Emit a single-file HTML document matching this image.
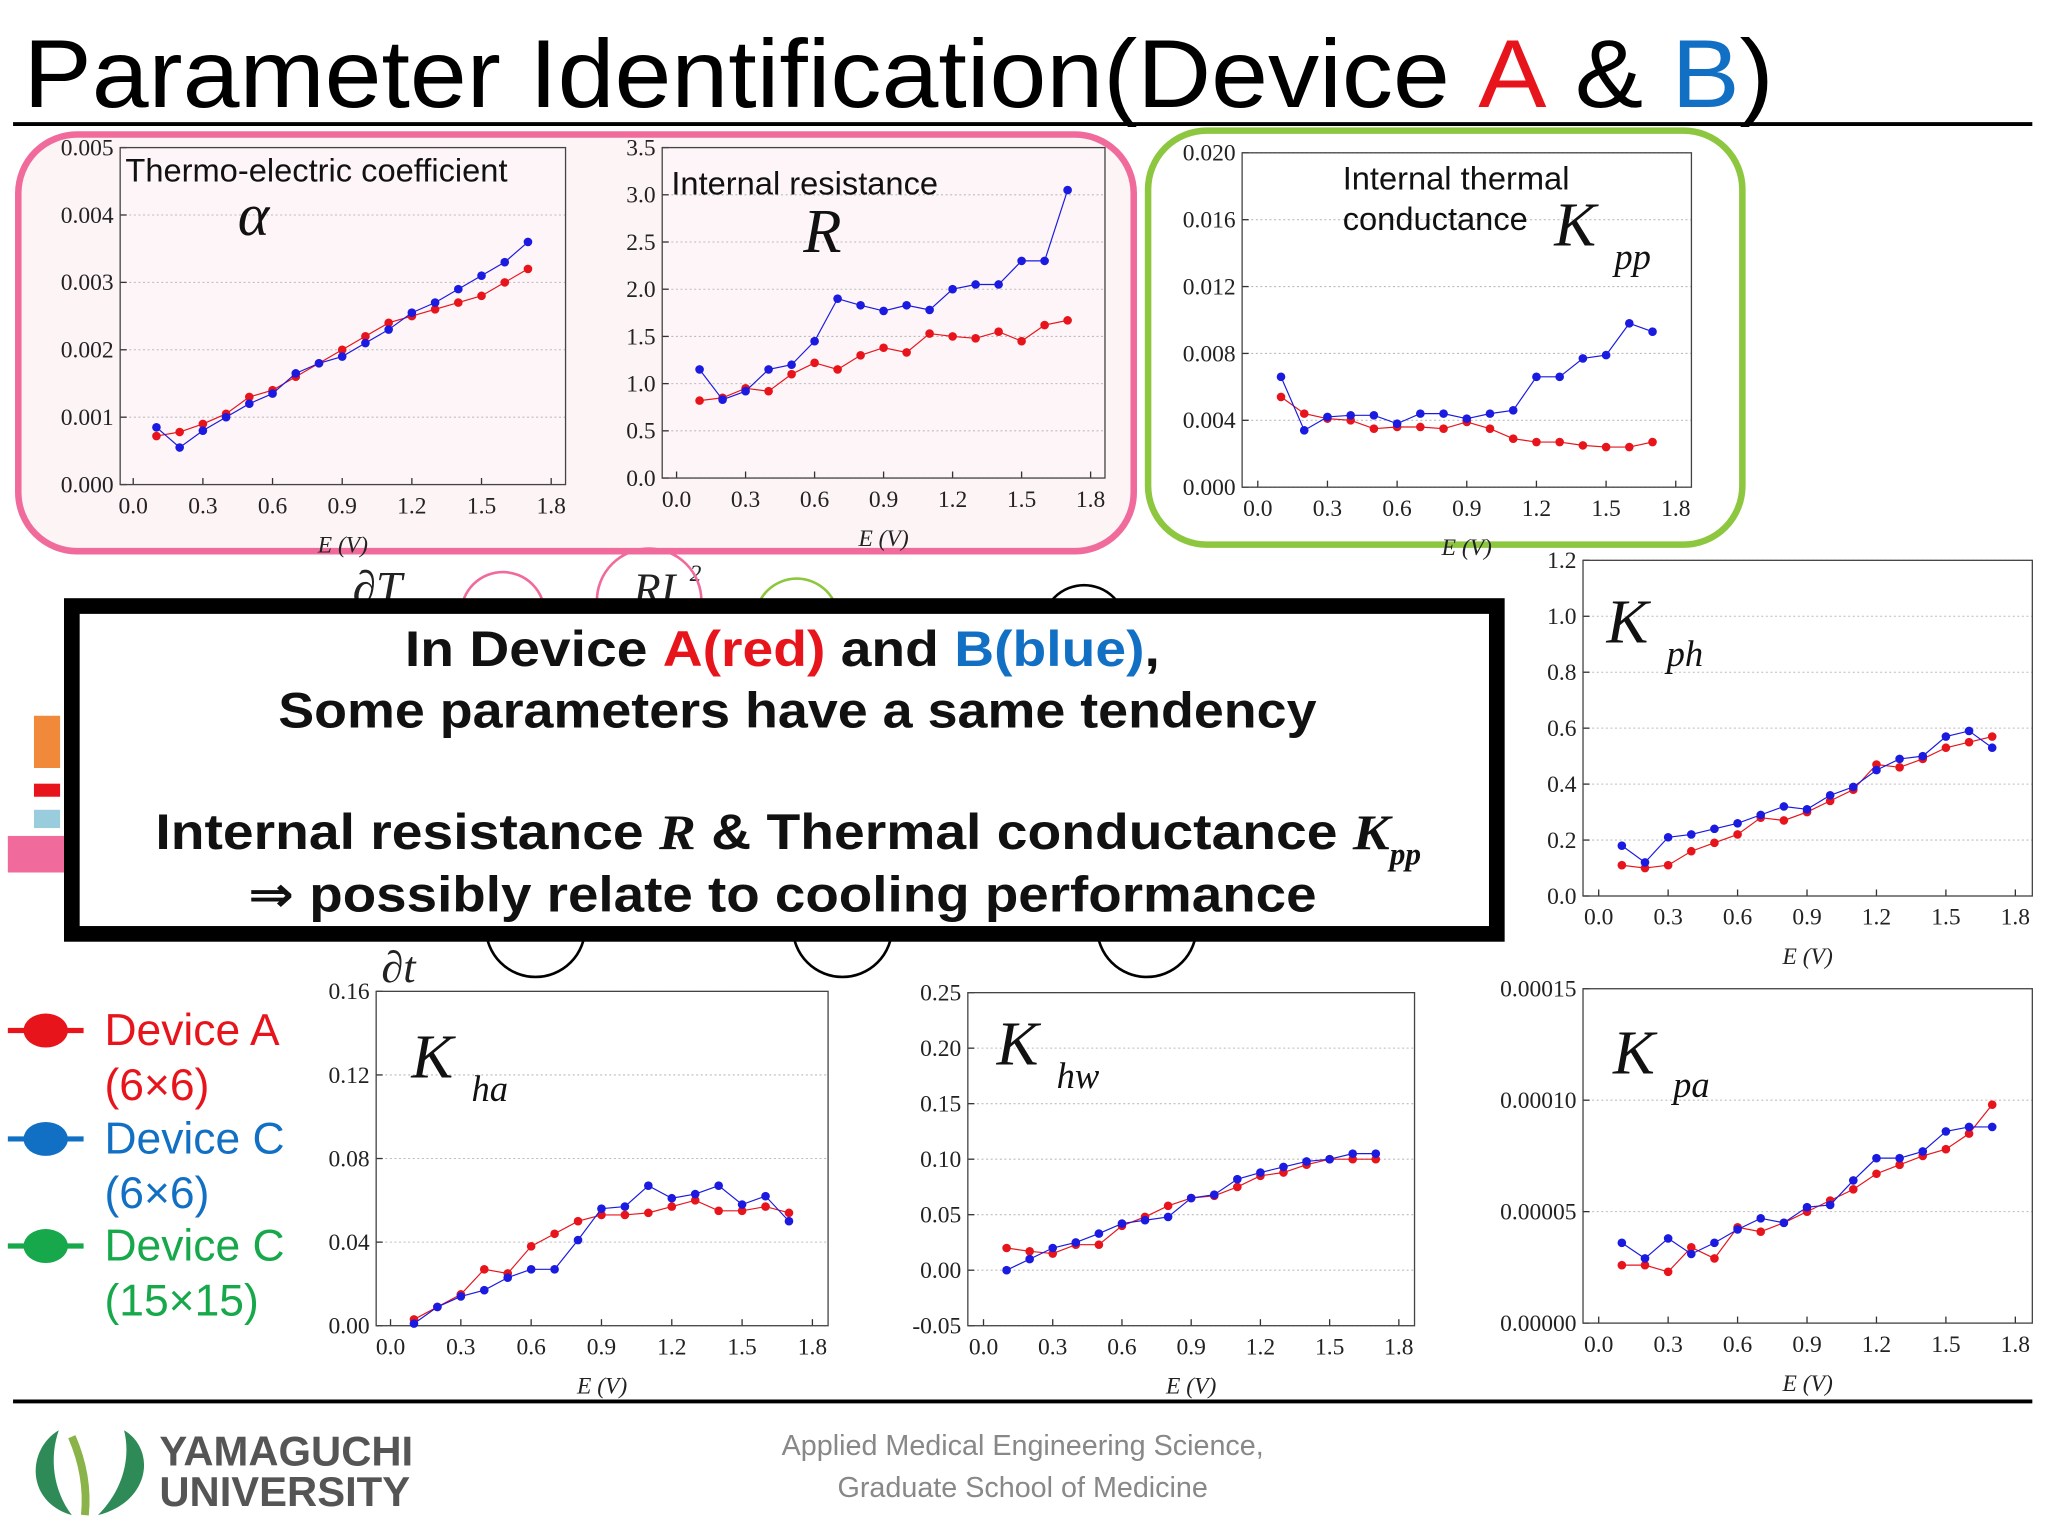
<!DOCTYPE html>
<html><head><meta charset="utf-8"><style>
html,body{margin:0;padding:0;background:#fff;}
svg{display:block;}
.tk{font-family:"Liberation Serif",serif;font-size:18px;fill:#222;}
.sans{font-family:"Liberation Sans","DejaVu Sans",sans-serif;}
</style></head><body>
<svg id="s" width="2048" height="1536" viewBox="0 0 1568 1176" xmlns="http://www.w3.org/2000/svg">
<rect width="1568" height="1176" fill="#fff"/>
<text x="18" y="82" class="sans" font-size="74" fill="#000" textLength="1340" lengthAdjust="spacingAndGlyphs">Parameter Identification(Device <tspan fill="#e8141b">A</tspan> &amp; <tspan fill="#1270c4">B</tspan>)</text>
<line x1="10" y1="95" x2="1556" y2="95" stroke="#000" stroke-width="3"/>
<rect x="14" y="103" width="854" height="319" rx="45" fill="#fdf4f6" stroke="#f06b9c" stroke-width="5"/>
<rect x="879" y="100" width="455" height="317" rx="45" fill="#fff" stroke="#8dc63f" stroke-width="5"/>
<g id="plots"></g>
<g font-family="Liberation Serif,serif" font-style="italic" fill="#222">
<text x="270" y="462" font-size="36">∂T</text><text x="485" y="462" font-size="34">RI</text><text x="528" y="445" font-size="18">2</text>
<text x="292" y="752" font-size="34">∂t</text>
<circle cx="385" cy="470" r="32" fill="none" stroke="#f06b9c" stroke-width="2"/>
<circle cx="497" cy="460" r="40" fill="none" stroke="#f06b9c" stroke-width="2"/>
<circle cx="610" cy="475" r="32" fill="none" stroke="#8dc63f" stroke-width="2"/>
<circle cx="830" cy="480" r="32" fill="none" stroke="#000" stroke-width="2"/>
<circle cx="410" cy="710" r="38" fill="none" stroke="#000" stroke-width="2"/>
<circle cx="645" cy="710" r="38" fill="none" stroke="#000" stroke-width="2"/>
<circle cx="878" cy="710" r="38" fill="none" stroke="#000" stroke-width="2"/>
</g>
<rect x="26" y="548" width="20" height="40" fill="#f08a3a"/><rect x="26" y="600" width="20" height="10" fill="#e8141b"/><rect x="26" y="620" width="20" height="14" fill="#9cd"/><rect x="6" y="640" width="45" height="28" fill="#f06b9c"/>
<rect x="55" y="464" width="1091" height="251" fill="#fff" stroke="#000" stroke-width="12"/>
<g class="sans" font-weight="bold" font-size="38" fill="#111">
<text x="310" y="510" textLength="578" lengthAdjust="spacingAndGlyphs">In Device <tspan fill="#e8141b">A(red)</tspan> and <tspan fill="#1270c4">B(blue)</tspan>,</text>
<text x="213" y="557" textLength="795" lengthAdjust="spacingAndGlyphs">Some parameters have a same tendency</text>
<text x="119" y="650" textLength="945" lengthAdjust="spacingAndGlyphs">Internal resistance <tspan font-family="Liberation Serif,serif" font-style="italic">R</tspan>  &amp;  Thermal conductance <tspan font-family="Liberation Serif,serif" font-style="italic">K</tspan></text>
<text x="1064" y="662" font-size="24" font-family="Liberation Serif,serif" font-style="italic">pp</text>
<text x="190" y="698" textLength="818" lengthAdjust="spacingAndGlyphs">⇒  possibly relate to cooling performance</text>
</g>
<g class="sans" font-size="34">
<line x1="6" y1="789" x2="64" y2="789" stroke="#e8141b" stroke-width="4"/><ellipse cx="35" cy="789" rx="17" ry="13" fill="#e8141b"/>
<text x="80" y="800" fill="#e8141b">Device A</text><text x="80" y="842" fill="#e8141b">(6×6)</text>
<line x1="6" y1="872" x2="64" y2="872" stroke="#1270c4" stroke-width="4"/><ellipse cx="35" cy="872" rx="17" ry="13" fill="#1270c4"/>
<text x="80" y="883" fill="#1270c4">Device C</text><text x="80" y="925" fill="#1270c4">(6×6)</text>
<line x1="6" y1="954" x2="64" y2="954" stroke="#16a84a" stroke-width="4"/><ellipse cx="35" cy="954" rx="17" ry="13" fill="#16a84a"/>
<text x="80" y="965" fill="#16a84a">Device C</text><text x="80" y="1007" fill="#16a84a">(15×15)</text>
</g>
<line x1="10" y1="1073" x2="1556" y2="1073" stroke="#000" stroke-width="3"/>
<g>
<path d="M45 1095 C20 1110 20 1150 55 1160 C40 1140 38 1115 45 1095Z" fill="#2e8b57"/>
<path d="M95 1095 C120 1110 115 1150 75 1160 C95 1140 100 1115 95 1095Z" fill="#2e8b57"/>
<path d="M55 1100 Q68 1130 65 1160" stroke="#8ab34a" stroke-width="6" fill="none"/>
<text x="122" y="1122" class="sans" font-weight="bold" font-size="32" fill="#555">YAMAGUCHI</text>
<text x="122" y="1153" class="sans" font-weight="bold" font-size="32" fill="#555">UNIVERSITY</text>
</g>
<text x="783" y="1114" text-anchor="middle" class="sans" font-size="22" fill="#888">Applied Medical Engineering Science,</text>
<text x="783" y="1146" text-anchor="middle" class="sans" font-size="22" fill="#888">Graduate School of Medicine</text>
</svg>
<script>
const NS="http://www.w3.org/2000/svg";
const xVals=[0.1,0.2,0.3,0.4,0.5,0.6,0.7,0.8,0.9,1.0,1.1,1.2,1.3,1.4,1.5,1.6,1.7];
const xTicks=["0.0","0.3","0.6","0.9","1.2","1.5","1.8"];
const alphaRed=[0.00072,0.00078,0.0009,0.00105,0.0013,0.0014,0.0016,0.0018,0.002,0.0022,0.0024,0.0025,0.0026,0.0027,0.0028,0.003,0.0032];
const alphaBlue=[0.00085,0.00055,0.0008,0.001,0.0012,0.00135,0.00165,0.0018,0.0019,0.0021,0.0023,0.00255,0.0027,0.0029,0.0031,0.0033,0.0036];
const alphaTicks=["0.000","0.001","0.002","0.003","0.004","0.005"];
const rRed=[0.82,0.85,0.95,0.92,1.1,1.22,1.15,1.3,1.38,1.33,1.53,1.5,1.48,1.55,1.45,1.62,1.67];
const rBlue=[1.15,0.83,0.92,1.15,1.2,1.45,1.9,1.83,1.77,1.83,1.78,2.0,2.05,2.05,2.3,2.3,3.05];
const rTicks=["0.0","0.5","1.0","1.5","2.0","2.5","3.0","3.5"];
const kppRed=[0.0054,0.0044,0.0041,0.004,0.0035,0.0036,0.0036,0.0035,0.0039,0.0035,0.0029,0.0027,0.0027,0.0025,0.0024,0.0024,0.0027];
const kppBlue=[0.0066,0.0034,0.0042,0.0043,0.0043,0.0038,0.0044,0.0044,0.0041,0.0044,0.0046,0.0066,0.0066,0.0077,0.0079,0.0098,0.0093];
const kppTicks=["0.000","0.004","0.008","0.012","0.016","0.020"];
const kphRed=[0.11,0.1,0.11,0.16,0.19,0.22,0.28,0.27,0.3,0.34,0.38,0.47,0.46,0.49,0.53,0.55,0.57];
const kphBlue=[0.18,0.12,0.21,0.22,0.24,0.26,0.29,0.32,0.31,0.36,0.39,0.45,0.49,0.5,0.57,0.59,0.53];
const kphTicks=["0.0","0.2","0.4","0.6","0.8","1.0","1.2"];
const khaRed=[0.003,0.009,0.015,0.027,0.025,0.038,0.044,0.05,0.053,0.053,0.054,0.057,0.06,0.055,0.055,0.057,0.054];
const khaBlue=[0.001,0.009,0.014,0.017,0.023,0.027,0.027,0.041,0.056,0.057,0.067,0.061,0.063,0.067,0.058,0.062,0.05];
const khaTicks=["0.00","0.04","0.08","0.12","0.16"];
const khwRed=[0.02,0.017,0.015,0.023,0.023,0.04,0.048,0.058,0.065,0.067,0.075,0.085,0.088,0.095,0.1,0.1,0.1];
const khwBlue=[0.0,0.01,0.02,0.025,0.033,0.042,0.045,0.048,0.065,0.068,0.082,0.088,0.093,0.098,0.1,0.105,0.105];
const khwTicks=["-0.05","0.00","0.05","0.10","0.15","0.20","0.25"];
const kpaRed=[2.6e-5,2.6e-5,2.3e-5,3.4e-5,2.9e-5,4.3e-5,4.1e-5,4.5e-5,5e-5,5.5e-5,6e-5,6.7e-5,7.1e-5,7.5e-5,7.8e-5,8.5e-5,9.8e-5];
const kpaBlue=[3.6e-5,2.9e-5,3.8e-5,3.1e-5,3.6e-5,4.2e-5,4.7e-5,4.5e-5,5.2e-5,5.3e-5,6.4e-5,7.4e-5,7.4e-5,7.7e-5,8.6e-5,8.8e-5,8.8e-5];
const kpaTicks=["0.00000","0.00005","0.00010","0.00015"];

const root=document.getElementById('plots');
function mk(tag,attrs,parent){const e=document.createElementNS(NS,tag);for(const k in attrs)e.setAttribute(k,attrs[k]);(parent||root).appendChild(e);return e;}

function plot(cfg){
  const g=mk('g',{});
  
  
  const X=v=>cfg.x0+(v/1.8)*(cfg.x1-cfg.x0);
  const ymin=parseFloat(cfg.yt[0]), ymax=parseFloat(cfg.yt[cfg.yt.length-1]);
  const Y=v=>cfg.y0-(v-ymin)/(ymax-ymin)*(cfg.y0-cfg.y1);
  mk('rect',{x:cfg.bx0,y:cfg.y1,width:cfg.bx1-cfg.bx0,height:cfg.y0-cfg.y1,fill:cfg.bg||'#fff'},g);
  cfg.yt.forEach(t=>{const y=Y(parseFloat(t));
    mk('line',{x1:cfg.bx0,x2:cfg.bx1,y1:y,y2:y,stroke:'#bbb','stroke-width':0.8,'stroke-dasharray':'1.5 2'},g);
    mk('line',{x1:cfg.bx0,x2:cfg.bx0+5,y1:y,y2:y,stroke:'#333'},g);
    const tx=mk('text',{x:cfg.bx0-5,y:y+6,'text-anchor':'end',class:'tk'},g);tx.textContent=t;
    
    });
  xTicks.forEach(t=>{const x=X(parseFloat(t));
    mk('line',{x1:x,x2:x,y1:cfg.y0,y2:cfg.y0-5,stroke:'#333'},g);
    const tx=mk('text',{x:x,y:cfg.y0+22,'text-anchor':'middle',class:'tk'},g);tx.textContent=t;
    
    });
  mk('rect',{x:cfg.bx0,y:cfg.y1,width:cfg.bx1-cfg.bx0,height:cfg.y0-cfg.y1,fill:'none',stroke:'#444','stroke-width':1},g);
  const xl=mk('text',{x:(cfg.bx0+cfg.bx1)/2,y:cfg.y0+52,'text-anchor':'middle',class:'tk','font-style':'italic'},g);
  xl.textContent='E (V)';
  
  
  [[cfg.red,'#e8141b'],[cfg.blue,'#1a1ae0']].forEach(([d,c])=>{
    const pts=d.map((v,i)=>X(xVals[i])+','+Y(v)).join(' ');
    const pl=mk('polyline',{points:pts,fill:'none',stroke:c,'stroke-width':0.9},g);
    
    
    d.forEach((v,i)=>{const p=mk('circle',{cx:X(xVals[i]),cy:Y(v),r:3.3,fill:c},g);
      
      });
  });
  if(cfg.label){const t=mk('g',{},g);t.innerHTML=cfg.label;
    
    }
  return g;
}
const L=(x,y,s)=>`<text x="${x}" y="${y}" font-family="Liberation Serif,serif" font-style="italic" font-size="48" fill="#111">K</text><text x="${x+46}" y="${y+18}" font-family="Liberation Serif,serif" font-style="italic" font-size="28" fill="#111">${s}</text>`;
plot({name:'alpha-chart',bx0:92,bx1:433,x0:102,x1:422,y0:371,y1:113,yt:alphaTicks,red:alphaRed,blue:alphaBlue,bg:'#fdf5f7',
 label:'<text x="96" y="139" font-family="Liberation Sans,sans-serif" font-size="25" fill="#111">Thermo-electric coefficient</text><text x="182" y="180" font-family="Liberation Serif,serif" font-style="italic" font-size="46" fill="#111">α</text>'});
plot({name:'resistance-chart',bx0:507,bx1:846,x0:518,x1:835,y0:366,y1:113,yt:rTicks,red:rRed,blue:rBlue,bg:'#fdf5f7',
 label:'<text x="514" y="149" font-family="Liberation Sans,sans-serif" font-size="25" fill="#111">Internal resistance</text><text x="615" y="193" font-family="Liberation Serif,serif" font-style="italic" font-size="48" fill="#111">R</text>'});
plot({name:'kpp-chart',bx0:951,bx1:1295,x0:963,x1:1283,y0:373,y1:117,yt:kppTicks,red:kppRed,blue:kppBlue,
 label:'<text x="1028" y="145" font-family="Liberation Sans,sans-serif" font-size="25" fill="#111">Internal thermal</text><text x="1028" y="176" font-family="Liberation Sans,sans-serif" font-size="25" fill="#111">conductance</text>'+L(1190,188,'pp')});
plot({name:'kph-chart',bx0:1212,bx1:1556,x0:1224,x1:1543,y0:686,y1:429,yt:kphTicks,red:kphRed,blue:kphBlue,label:L(1230,492,'ph')});
plot({name:'kha-chart',bx0:288,bx1:634,x0:299,x1:622,y0:1015,y1:759,yt:khaTicks,red:khaRed,blue:khaBlue,label:L(315,825,'ha')});
plot({name:'khw-chart',bx0:741,bx1:1083,x0:753,x1:1071,y0:1015,y1:760,yt:khwTicks,red:khwRed,blue:khwBlue,label:L(763,815,'hw')});
plot({name:'kpa-chart',bx0:1212,bx1:1556,x0:1224,x1:1543,y0:1013,y1:757,yt:kpaTicks,red:kpaRed,blue:kpaBlue,label:L(1235,822,'pa')});
</script>
</body></html>
